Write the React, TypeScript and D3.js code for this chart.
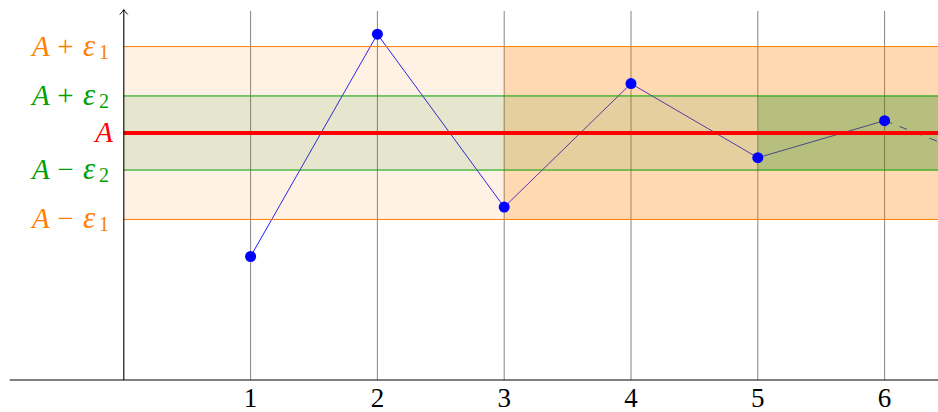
import * as d3 from 'd3';

// sequence u_n and the limit bands
const steps = [1, 2, 3, 4, 5, 6, 7];
const values = [2.5, 7, 3.5, 6, 4.5, 5.25, 4.25];
const xTicks = [1, 2, 3, 4, 5, 6];
const limitA = 5;
const eps1 = 1.75;
const eps2 = 0.75;
const rank1 = 3; // from here on, inside A ± ε1
const rank2 = 5; // from here on, inside A ± ε2
const shownUntil = 6; // last solid segment ends here

const bandLabels = [
  { value: limitA + eps1, sign: '+', sub: '1', color: '#ff8000' },
  { value: limitA + eps2, sign: '+', sub: '2', color: '#00a000' },
  { value: limitA - eps2, sign: '\u2212', sub: '2', color: '#00a000' },
  { value: limitA - eps1, sign: '\u2212', sub: '1', color: '#ff8000' }
];

const width = 938;
const height = 412;
const serif = 'Liberation Serif';

const x = d3.scaleLinear().domain([0, 7]).range([123.8, 123.8 + 7 * 126.8]);
const y = d3.scaleLinear().domain([0, 7.5]).range([380, 380 - 7.5 * 49.4]);
const xEnd = x(7.6);

export default function App() {
  const solidIdx = steps.filter(s => s <= shownUntil).length;
  const line = d3.line<number>()
    .x((d, i) => x(steps[i]))
    .y(d => y(d));

  const bands = [
    { from: 0, eps: eps1, color: '#ff8000', opacity: 0.1 },
    { from: rank1, eps: eps1, color: '#ff8000', opacity: 0.22 },
    { from: 0, eps: eps2, color: '#008000', opacity: 0.1 },
    { from: rank2, eps: eps2, color: '#008000', opacity: 0.2 }
  ];

  const labelRight = 111;
  const top = y(7.5);

  return (
    <svg
      width={width}
      height={height}
      style={{ position: 'absolute', left: 0, top: 0, display: 'block', background: '#fff' }}
    >
      {/* vertical grid */}
      {steps.map(s => (
        <line key={s} x1={x(s)} x2={x(s)} y1={y(7.47)} y2={y(0)} stroke="#777" strokeWidth={0.9} />
      ))}

      {/* the sequence, under the bands */}
      <path d={line(values.slice(0, solidIdx)) || ''} fill="none" stroke="#0000ff" strokeWidth={0.9} />
      <line
        x1={x(steps[solidIdx - 1])}
        y1={y(values[solidIdx - 1])}
        x2={x(steps[solidIdx])}
        y2={y(values[solidIdx])}
        stroke="#0000ff"
        strokeWidth={0.9}
        strokeDasharray="8 8"
      />

      {bands.map((b, i) => (
        <rect
          key={i}
          x={x(b.from)}
          y={y(limitA + b.eps)}
          width={xEnd - x(b.from)}
          height={y(limitA - b.eps) - y(limitA + b.eps)}
          fill={b.color}
          fillOpacity={b.opacity}
        />
      ))}

      {bandLabels.map((b, i) => (
        <line key={i} x1={x(0)} x2={xEnd} y1={y(b.value)} y2={y(b.value)} stroke={b.color} strokeWidth={1} />
      ))}

      {/* limit */}
      <line x1={x(0)} x2={xEnd} y1={y(limitA)} y2={y(limitA)} stroke="#ff0000" strokeWidth={4} />

      {values.map((v, i) => (
        <circle key={i} cx={x(steps[i])} cy={y(v)} r={5.5} fill="#0000ff" />
      ))}

      {/* axes */}
      <line x1={x(-0.9)} x2={xEnd} y1={y(0)} y2={y(0)} stroke="#000" strokeWidth={1.2} />
      <line x1={x(0)} x2={x(0)} y1={y(0)} y2={top + 0.5} stroke="#000" strokeWidth={1.1} />
      <path
        d={`M${x(0) - 4},${top + 5} Q${x(0) - 1},${top + 2} ${x(0)},${top} Q${x(0) + 1},${top + 2} ${x(0) + 4},${top + 5}`}
        fill="none"
        stroke="#000"
        strokeWidth={1}
      />

      {/* x tick labels */}
      {xTicks.map(t => (
        <text key={t} x={x(t)} y={y(0) + 27} textAnchor="middle" fontFamily={serif} fontSize={27}>
          {t}
        </text>
      ))}

      {/* y labels */}
      {bandLabels.map((b, i) => {
        const base = y(b.value) + 9;
        return (
          <g key={i} fill={b.color}>
            <text x={labelRight - 79} y={base} fontFamily={serif} fontSize={29} fontStyle="italic">A</text>
            <text x={labelRight - 45.5} y={base} fontFamily={serif} fontSize={29} textAnchor="middle">{b.sign}</text>
            <text x={labelRight - 28} y={base} fontFamily={serif} fontSize={31} fontStyle="italic">{'\u03b5'}</text>
            <text x={labelRight - 12} y={base + 3} fontFamily={serif} fontSize={20}>{b.sub}</text>
          </g>
        );
      })}
      <text
        x={labelRight + 2}
        y={y(limitA) + 9}
        textAnchor="end"
        fontFamily={serif}
        fontSize={29}
        fontStyle="italic"
        fill="#ff0000"
      >
        A
      </text>
    </svg>
  );
}
